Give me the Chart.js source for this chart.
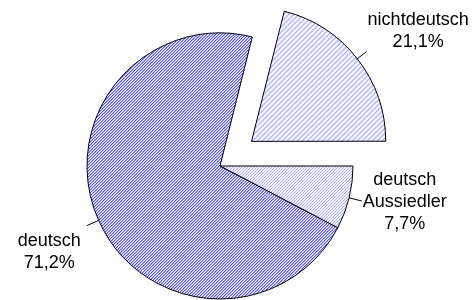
<!DOCTYPE html>
<html>
<head>
<meta charset="utf-8">
<script src="https://cdn.jsdelivr.net/npm/chart.js@4/dist/chart.umd.min.js"></script>
<style>
  html, body { margin: 0; padding: 0; background: #fff; }
  #wrap { width: 476px; height: 300px; }
</style>
</head>
<body>
<div id="wrap"><canvas id="pieChart" width="476" height="300"></canvas></div>
<script>
// slices in drawing order, clockwise from 3 o'clock
let categories = [["deutsch", "Aussiedler"], ["deutsch"], ["nichtdeutsch"]];
let shares = [7.7, 71.2, 21.1];
let shareLabels = ["7,7%", "71,2%", "21,1%"];
let explode = [0, 0, 1];

//--HATCH PATTERNS---------------------------------------------------------------------------------
function makeHatch(size, shades) {
  let c = document.createElement("canvas");
  c.width = size;
  c.height = size;
  let g = c.getContext("2d");
  g.fillStyle = "#ffffff";
  g.fillRect(0, 0, size, size);
  for (let x = 0; x < size; x++) {
    for (let y = 0; y < size; y++) {
      let k = (x + y) % size;
      if (shades[k]) {
        g.fillStyle = shades[k];
        g.fillRect(x, y, 1, 1);
      }
    }
  }
  return document.createElement("canvas").getContext("2d").createPattern(c, "repeat");
}

const hatches = [
  makeHatch(3, ["rgb(175,175,255)", "rgb(235,235,255)", null]),
  makeHatch(3, ["rgb(80,80,245)", "rgb(175,175,252)", null]),
  makeHatch(5, ["rgb(140,140,255)", "rgb(210,210,255)", null, null, null]),
];

//--LABELS WITH LEADER LINES-----------------------------------------------------------------------
const leaderLabels = {
  id: "leaderLabels",
  afterDatasetsDraw(chart) {
    const ctx = chart.ctx;
    const arcs = chart.getDatasetMeta(0).data;
    const lineH = 22;
    ctx.save();
    ctx.font = "18px 'Liberation Sans', Arial, sans-serif";
    ctx.fillStyle = "#000";
    ctx.strokeStyle = "#000";
    ctx.lineWidth = 1;
    arcs.forEach((arc, i) => {
      const p = arc.getProps(["x", "y", "startAngle", "endAngle", "outerRadius"], true);
      const mid = (p.startAngle + p.endAngle) / 2;
      const dx = Math.cos(mid);
      const dy = Math.sin(mid);
      const shift = (arc.options.offset || 0) / 4;
      const cx = p.x + dx * shift;
      const cy = p.y + dy * shift;
      const sx = cx + dx * p.outerRadius;
      const sy = cy + dy * p.outerRadius;
      const ex = cx + dx * (p.outerRadius + 13);
      const ey = cy + dy * (p.outerRadius + 13);
      ctx.beginPath();
      ctx.moveTo(sx, sy);
      ctx.lineTo(ex, ey);
      ctx.stroke();

      const lines = categories[i].concat([shareLabels[i]]);
      let w = 0;
      lines.forEach((t) => { w = Math.max(w, ctx.measureText(t).width); });
      const h = lines.length * lineH;
      let tx = dx >= 0 ? ex + w / 2 + 1 : ex - w / 2 - 6;
      let ty = ey;
      if (dy > 0.3) ty = ey + h / 2 + 3;
      if (dy < -0.3) ty = ey - h / 2;
      ctx.textAlign = "center";
      ctx.textBaseline = "alphabetic";
      lines.forEach((t, j) => {
        ctx.fillText(t, tx, ty - h / 2 + 17 + j * lineH);
      });
    });
    ctx.restore();
  },
};

const ctx = document.getElementById("pieChart").getContext("2d");
const pieChart = new Chart(ctx, {
  type: "pie",
  data: {
    labels: categories.map((c) => c.join(" ")),
    datasets: [
      {
        data: shares,
        backgroundColor: hatches,
        borderColor: "#000000",
        borderWidth: 1,
        offset: explode.map((e) => e * 160),
      },
    ],
  },
  options: {
    responsive: false,
    animation: false,
    events: [],
    rotation: 90,
    radius: 133,
    layout: { padding: { left: 0, right: 36, top: 32, bottom: 0 } },
    plugins: {
      legend: { display: false },
      tooltip: { enabled: false },
    },
  },
  plugins: [leaderLabels],
});
</script>
</body>
</html>
